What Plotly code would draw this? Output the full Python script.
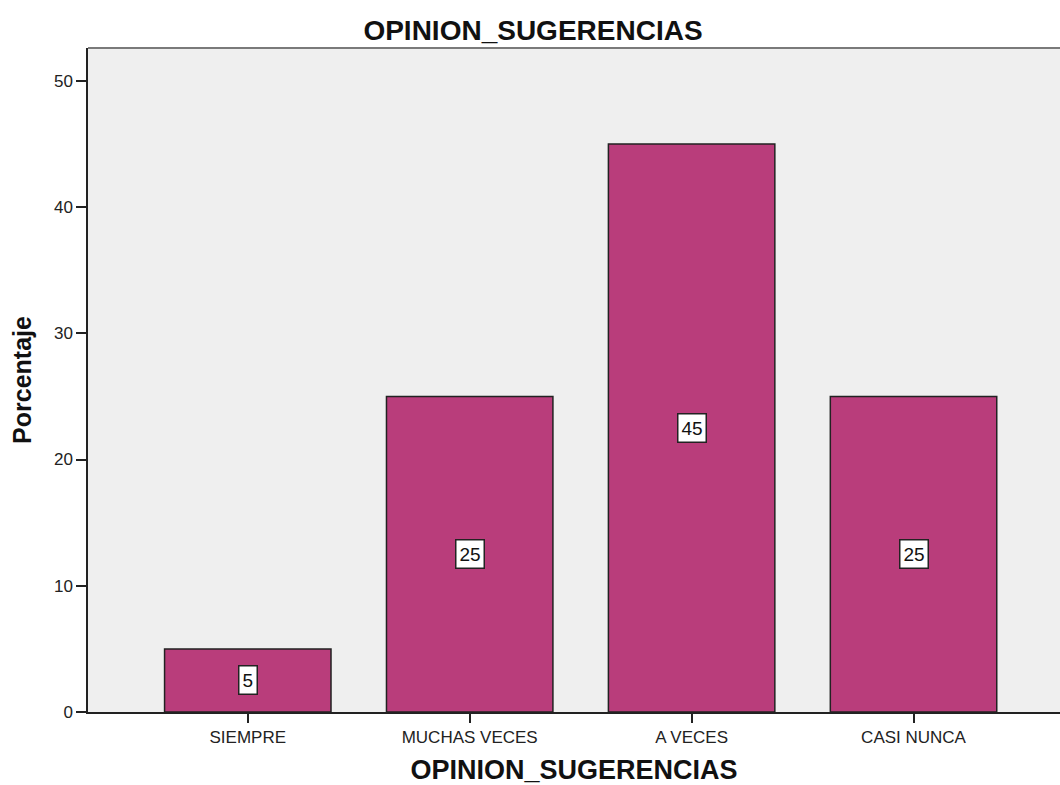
import plotly.graph_objects as go

categories = ["SIEMPRE", "MUCHAS VECES", "A VECES", "CASI NUNCA"]
percentages = [5, 25, 45, 25]
y_ticks = [0, 10, 20, 30, 40, 50]

bar_color = "#B93D7B"
font_family = "Liberation Sans, Arial, sans-serif"

x_pos = list(range(len(categories)))

fig = go.Figure()
fig.add_trace(go.Bar(
    x=x_pos,
    y=percentages,
    width=0.75,
    marker=dict(color=bar_color, line=dict(color="#222222", width=1.5)),
    hoverinfo="skip",
))

# value boxes at half height of each bar
for xi, v in zip(x_pos, percentages):
    fig.add_annotation(
        x=xi, y=v / 2, text=str(v), showarrow=False,
        font=dict(family=font_family, size=19, color="#111111"),
        bgcolor="white", bordercolor="#222222", borderwidth=1.5, borderpad=3,
    )

# grey frame line along the top of the plot area
fig.add_shape(type="line", xref="paper", yref="paper", x0=0, x1=1, y0=1, y1=1,
              line=dict(color="#7a7a7a", width=2))

fig.update_layout(
    width=1060, height=785,
    margin=dict(l=88, r=0, t=48, b=73),
    paper_bgcolor="white",
    plot_bgcolor="#EFEFEF",
    showlegend=False,
    title=dict(text="<b>OPINION_SUGERENCIAS</b>", x=533 / 1060, xanchor="center",
               y=1 - 30 / 785, yanchor="middle",
               font=dict(family=font_family, size=28, color="#111111")),
    font=dict(family=font_family, size=17, color="#222222"),
)

fig.update_xaxes(
    range=[-0.72, 3.66],
    tickmode="array", tickvals=x_pos, ticktext=categories,
    ticks="outside", ticklen=9, tickcolor="#222222", tickwidth=1.5,
    showline=True, linecolor="#222222", linewidth=1.5,
    showgrid=False, zeroline=False,
    tickfont=dict(family=font_family, size=17, color="#222222"),
    title=dict(text="<b>OPINION_SUGERENCIAS</b>", standoff=17,
               font=dict(family=font_family, size=27, color="#111111")),
)
fig.update_yaxes(
    range=[0, 52.6],
    tickmode="array", tickvals=y_ticks,
    ticks="outside", ticklen=10, tickcolor="#222222", tickwidth=1.5,
    showline=True, linecolor="#222222", linewidth=1.5,
    showgrid=False, zeroline=False,
    tickfont=dict(family=font_family, size=17, color="#222222"),
    title=dict(text="<b>Porcentaje</b>", standoff=15,
               font=dict(family=font_family, size=25, color="#111111")),
)

fig.write_html("out.html")
